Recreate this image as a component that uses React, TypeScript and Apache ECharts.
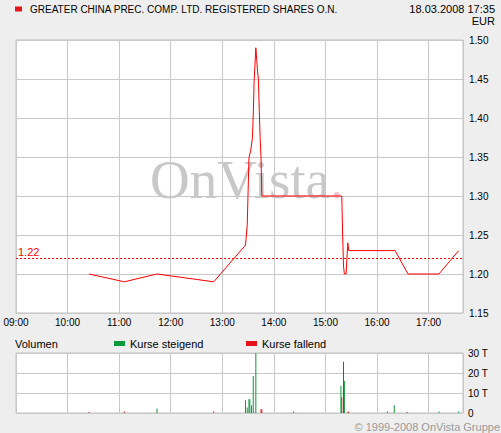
import React, { useEffect, useRef } from "react";
import * as echarts from "echarts";

const TITLE = "GREATER CHINA PREC. COMP. LTD. REGISTERED SHARES O.N.";
const DATE_TEXT = "18.03.2008 17:35";
const CURRENCY = "EUR";
const COPYRIGHT = "© 1999-2008 OnVista Gruppe";
const REF_PRICE = 1.22;

// trading session in minutes after 09:00
const SESSION_START = "09:00";
const SESSION_END = "17:40";

const priceTimes = [
  "10:25", "11:06", "11:44", "12:50", "13:27", "13:28", "13:29", "13:31", "13:33",
  "13:35", "13:36", "13:37", "13:39", "13:40", "13:41", "13:42", "13:43", "13:44",
  "13:45", "13:46", "15:19", "15:20", "15:21", "15:22", "15:24", "15:25", "15:26",
  "15:27", "16:21", "16:36", "17:12", "17:35",
];
const priceValues = [
  1.2, 1.19, 1.2, 1.19, 1.237, 1.25, 1.263, 1.349, 1.358,
  1.374, 1.404, 1.447, 1.49, 1.475, 1.46, 1.449, 1.41, 1.374,
  1.351, 1.3, 1.3, 1.25, 1.21, 1.2, 1.2, 1.22, 1.24,
  1.23, 1.23, 1.2, 1.2, 1.23,
];

const upTimes = [
  "11:44", "13:27", "13:29", "13:31", "13:32", "13:34", "13:36", "13:39",
  "14:23", "15:18", "15:22", "15:26", "16:12", "16:20", "17:12", "17:35",
];
const upVolumes = [2.2, 6.4, 2.7, 6.9, 6.9, 3.9, 18.5, 30, 0.8, 13.5, 16, 0.5, 0.8, 3.9, 0.8, 0.8];

const downTimes = ["10:25", "11:06", "12:50", "13:45", "13:46", "15:19", "15:21", "15:27", "16:35"];
const downVolumes = [0.5, 0.8, 0.8, 1.9, 1.9, 7.9, 25.6, 0.8, 0.5];

const priceAxis = { min: 1.15, max: 1.5, interval: 0.05 };
const volumeAxis = { min: 0, max: 30, interval: 10 };

const UP_NAME = "Kurse steigend";
const DOWN_NAME = "Kurse fallend";

const toMin = (t: string) => {
  const [h, m] = t.split(":").map(Number);
  const [h0, m0] = SESSION_START.split(":").map(Number);
  return (h - h0) * 60 + (m - m0);
};

const FONT = "'Liberation Sans', Arial, sans-serif";

export default function App() {
  const ref = useRef<HTMLDivElement>(null);
  useEffect(() => {
    if (!ref.current) return;
    const chart = echarts.init(ref.current, undefined, { renderer: "svg" });
    const xMax = toMin(SESSION_END);
    const timeFmt = (v: number) => {
      if (v % 60 !== 0) return "";
      const h = 9 + v / 60;
      return (h < 10 ? "0" : "") + h + ":00";
    };
    const gridLine = { lineStyle: { color: "#c8c8c8", width: 1 } };
    const plainText = { fontSize: 11, fontWeight: "normal", color: "#000", fontFamily: FONT };
    chart.setOption({
      animation: false,
      backgroundColor: "#eeeeee",
      textStyle: { fontFamily: FONT },
      title: [
        { text: DATE_TEXT, right: 6, top: 3, padding: 0, textStyle: plainText },
        { text: CURRENCY, right: 6, top: 15, padding: 0, textStyle: plainText },
        { text: "Volumen", left: 15, top: 338, padding: 0, textStyle: plainText },
        {
          text: COPYRIGHT, right: 1, top: 421, padding: 0,
          textStyle: { ...plainText, color: "#999" },
        },
      ],
      legend: [
        {
          data: [TITLE],
          left: 15,
          top: 4,
          padding: 0,
          icon: "rect",
          itemWidth: 7,
          itemHeight: 5,
          selectedMode: false,
          textStyle: { fontSize: 10, color: "#000", fontFamily: FONT, padding: [0, 0, 0, 3] },
        },
        {
          data: [UP_NAME],
          left: 114,
          top: 338,
          padding: 0,
          icon: "rect",
          itemWidth: 11,
          itemHeight: 5,
          selectedMode: false,
          textStyle: { fontSize: 11, color: "#000", fontFamily: FONT },
        },
        {
          data: [DOWN_NAME],
          left: 246,
          top: 338,
          padding: 0,
          icon: "rect",
          itemWidth: 11,
          itemHeight: 5,
          selectedMode: false,
          textStyle: { fontSize: 11, color: "#000", fontFamily: FONT },
        },
      ],
      graphic: [
        {
          type: "text",
          left: 150,
          top: 152,
          z: 1,
          silent: true,
          style: {
            text: "{a|OnVista}{b|.}",
            rich: {
              a: { fontFamily: "'Liberation Serif', 'Times New Roman', serif", fontSize: 55, fill: "#c8c8c8" },
              b: { fontFamily: "'Liberation Serif', 'Times New Roman', serif", fontSize: 55, fill: "#f2c4cc" },
            },
          },
        },
      ],
      grid: [
        {
          left: 16, right: 38, top: 40, height: 273,
          show: true, backgroundColor: "#ffffff", borderColor: "#c0c0c0", borderWidth: 1,
        },
        {
          left: 16, right: 38, top: 353, height: 60,
          show: true, backgroundColor: "#ffffff", borderColor: "#c0c0c0", borderWidth: 1,
        },
      ],
      xAxis: [
        {
          type: "value", gridIndex: 0, min: 0, max: xMax, interval: 60,
          axisLine: { show: false }, axisTick: { show: false },
          axisLabel: { formatter: timeFmt, fontSize: 10, color: "#000", margin: 4, fontFamily: FONT, showMaxLabel: false },
          splitLine: { show: true, ...gridLine },
        },
        {
          type: "value", gridIndex: 1, min: 0, max: xMax, interval: 60,
          axisLine: { show: false }, axisTick: { show: false },
          axisLabel: { show: false },
          splitLine: { show: true, ...gridLine },
        },
      ],
      yAxis: [
        {
          type: "value", gridIndex: 0, position: "right",
          min: priceAxis.min, max: priceAxis.max, interval: priceAxis.interval,
          axisLine: { show: false }, axisTick: { show: false },
          axisLabel: { formatter: (v: number) => v.toFixed(2), fontSize: 10, color: "#000", margin: 6, fontFamily: FONT },
          splitLine: { show: true, ...gridLine },
        },
        {
          type: "value", gridIndex: 1, position: "right",
          min: volumeAxis.min, max: volumeAxis.max, interval: volumeAxis.interval,
          axisLine: { show: false }, axisTick: { show: false },
          axisLabel: { formatter: (v: number) => (v === 0 ? "0" : v + " T"), fontSize: 10, color: "#000", margin: 5, fontFamily: FONT },
          splitLine: { show: true, ...gridLine },
        },
      ],
      series: [
        {
          name: TITLE,
          type: "line",
          xAxisIndex: 0,
          yAxisIndex: 0,
          data: priceTimes.map((t, i) => [toMin(t), priceValues[i]]),
          showSymbol: false,
          symbol: "none",
          color: "#e8141b",
          lineStyle: { color: "#ff0000", width: 1 },
          z: 3,
          markLine: {
            silent: true,
            symbol: "none",
            lineStyle: { color: "#ff0000", type: [2, 2], width: 1 },
            label: {
              show: true, position: "insideStartTop", formatter: REF_PRICE.toFixed(2),
              color: "#ff0000", fontSize: 11, fontFamily: FONT, distance: [2, 1],
            },
            data: [{ yAxis: REF_PRICE }],
          },
        },
        {
          name: UP_NAME,
          type: "bar",
          xAxisIndex: 1,
          yAxisIndex: 1,
          data: upTimes.map((t, i) => [toMin(t), upVolumes[i]]),
          barWidth: 1,
          barGap: "-100%",
          color: "#0a9a3a",
          itemStyle: { color: "#0a9a3a" },
        },
        {
          name: DOWN_NAME,
          type: "bar",
          xAxisIndex: 1,
          yAxisIndex: 1,
          data: downTimes.map((t, i) => [toMin(t), downVolumes[i]]),
          barWidth: 1,
          barGap: "-100%",
          color: "#e8141b",
          itemStyle: { color: "#e8141b" },
        },
      ],
    });
    return () => chart.dispose();
  }, []);
  return (
    <div
      ref={ref}
      style={{ position: "fixed", left: 0, top: 0, width: 501, height: 433 }}
    />
  );
}
